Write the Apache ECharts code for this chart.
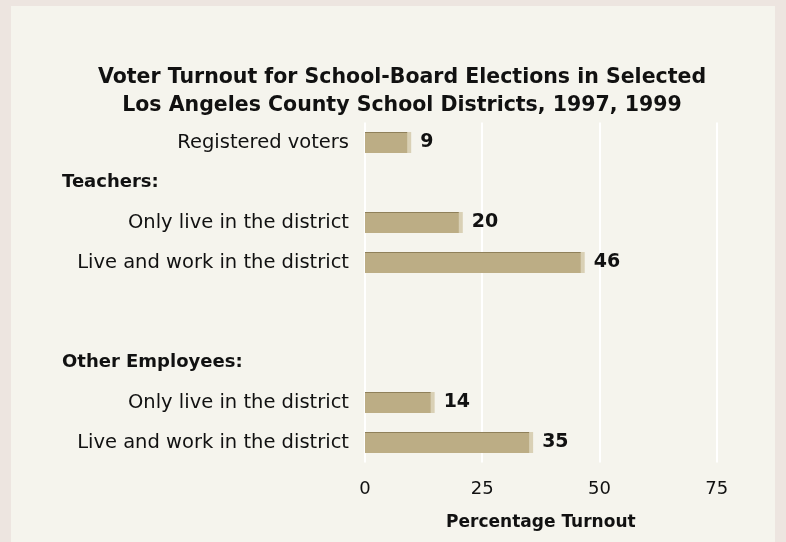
<!DOCTYPE html>
<html>
<head>
<meta charset="utf-8">
<script src="https://cdn.jsdelivr.net/npm/echarts@6/dist/echarts.min.js"></script>
<style>
html,body{margin:0;padding:0;background:#ede5e0;}
#c{width:786px;height:542px;}
</style>
</head>
<body>
<div id="c"></div>
<script>
// Row labels (slots from -1 to 16; blanks are spacer rows)
var rowLabels = ['', 'Registered voters', '', 'Teachers:', '', 'Only live in the district', '', 'Live and work in the district', '', '', '', '', 'Other Employees:', '', 'Only live in the district', '', 'Live and work in the district', ''];
var headerRows = ['Teachers:', 'Other Employees:'];
// Turnout values per row ('-' = no bar)
var turnout = ['-', 9, '-', '-', '-', 20, '-', 46, '-', '-', '-', '-', '-', '-', 14, '-', 35, '-'];
var xTicks = [0, 25, 50, 75];

var chart = echarts.init(document.getElementById('c'));
var FONT = 'DejaVu Sans';
chart.setOption({
  backgroundColor: '#ede5e0',
  animation: false,
  textStyle: {fontFamily: FONT},
  graphic: [{
    type: 'rect', z: -10, silent: true,
    shape: {x: 11, y: 6, width: 764, height: 540},
    style: {fill: '#f5f4ed'}
  }],
  title: {
    text: 'Voter Turnout for School-Board Elections in Selected\nLos Angeles County School Districts, 1997, 1999',
    left: 397, top: 59, textAlign: 'center',
    textStyle: {fontFamily: FONT, fontSize: 20.5, fontWeight: 'bold', color: '#111', lineHeight: 27.5}
  },
  grid: {left: 365, right: 69.3, top: 122.5, bottom: 542 - 462.5, containLabel: false},
  xAxis: {
    type: 'value', min: xTicks[0], max: xTicks[xTicks.length - 1], interval: 25,
    axisLine: {show: false}, axisTick: {show: false},
    splitLine: {show: true, lineStyle: {color: '#ffffff', width: 2}},
    axisLabel: {fontFamily: FONT, fontSize: 18, color: '#111', margin: 18},
    name: 'Percentage Turnout', nameLocation: 'middle', nameGap: 52,
    nameTextStyle: {fontFamily: FONT, fontSize: 17, fontWeight: 'bold', color: '#111'}
  },
  yAxis: {
    type: 'category', inverse: true, boundaryGap: false,
    data: rowLabels.map(function (s, i) { return String(i); }),
    axisLine: {show: false}, axisTick: {show: false}, splitLine: {show: false},
    axisLabel: {
      interval: 0, margin: 16, fontFamily: FONT, fontSize: 19.5, color: '#111',
      formatter: function (v) {
        var s = rowLabels[+v];
        if (!s) return '';
        if (headerRows.indexOf(s) >= 0) return '{h|' + s + '}';
        return s;
      },
      rich: {h: {fontFamily: FONT, fontSize: 18, fontWeight: 'bold', color: '#111', width: 287, align: 'left'}}
    }
  },
  series: [{
    type: 'bar', data: turnout, barWidth: 21,
    itemStyle: {
      color: {type: 'linear', x: 0, y: 0, x2: 0, y2: 1, colorStops: [
        {offset: 0, color: '#8f805a'}, {offset: 0.07, color: '#8f805a'},
        {offset: 0.07, color: '#bcad85'}, {offset: 1, color: '#bcad85'}]},
      shadowColor: '#d9d0b5', shadowOffsetX: 4, shadowOffsetY: 0, shadowBlur: 0
    },
    label: {show: true, position: 'right', distance: 13, fontFamily: FONT, fontSize: 19, fontWeight: 'bold', color: '#111'}
  }]
});
</script>
</body>
</html>
